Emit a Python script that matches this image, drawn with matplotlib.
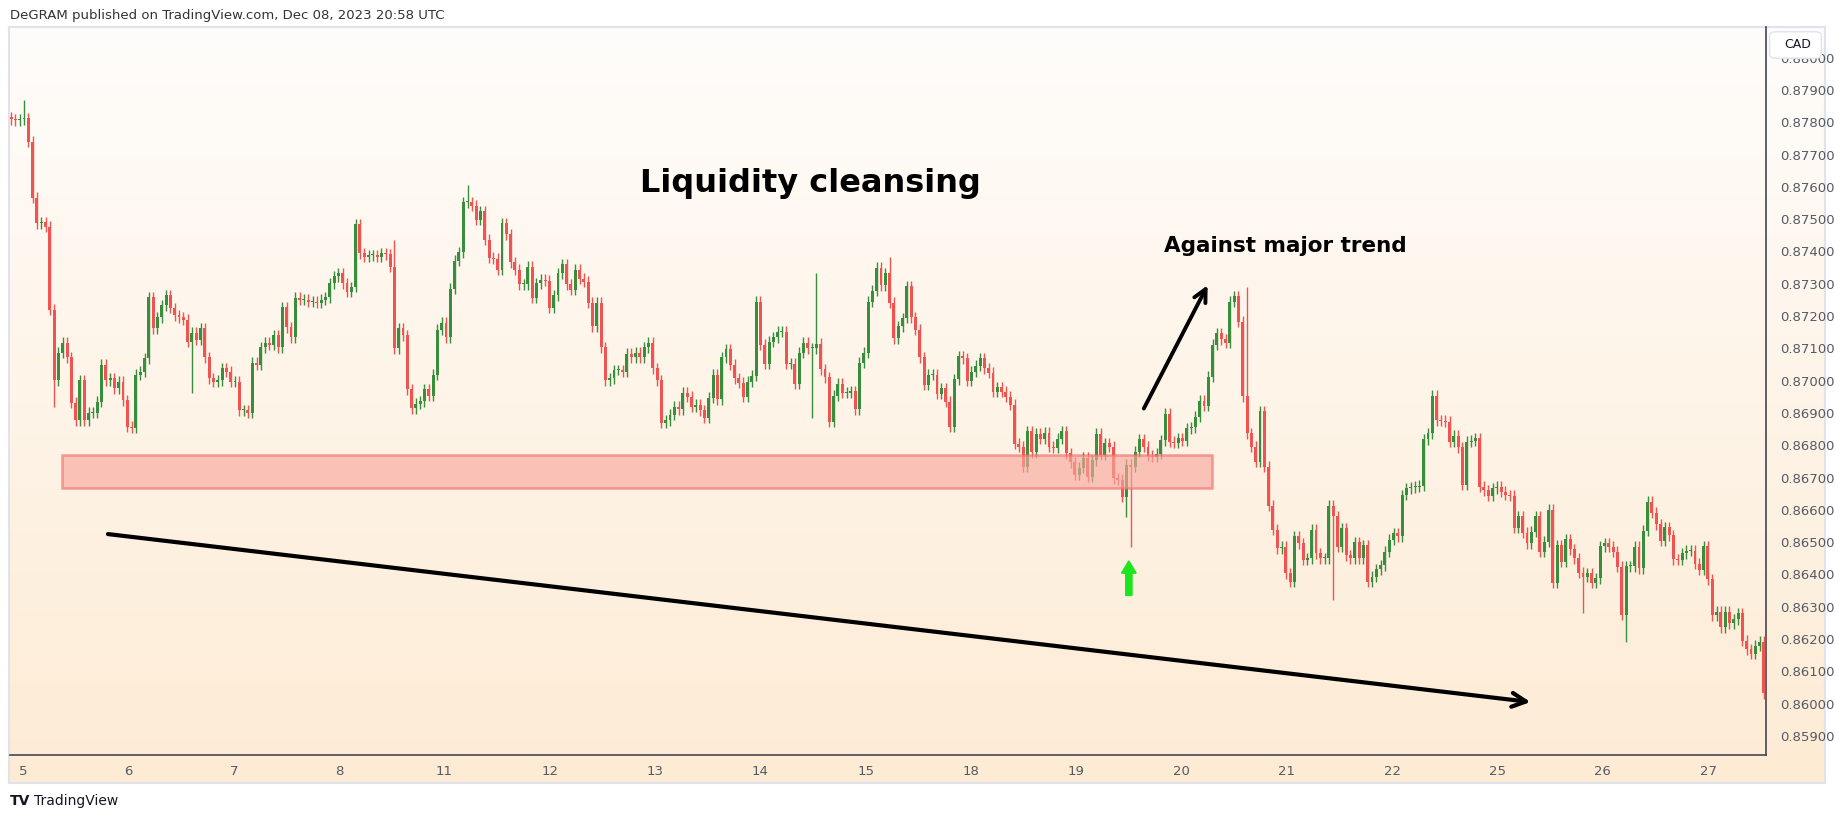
import numpy as np
import matplotlib
matplotlib.use("Agg")
import matplotlib.pyplot as plt
from matplotlib.patches import Rectangle, FancyBboxPatch, FancyArrow
from matplotlib.colors import LinearSegmentedColormap

# ---------------- data ----------------
closes = [
    0.8781, 0.87807, 0.8781, 0.87813, 0.87739, 0.87566, 0.87488, 0.87491, 0.87476, 0.87219,
    0.87002, 0.87086, 0.87117, 0.87073, 0.86931, 0.86878, 0.87002, 0.86878, 0.869, 0.869,
    0.86934, 0.87049, 0.87002, 0.87008, 0.86977, 0.86996, 0.8694, 0.86857, 0.86854, 0.87018,
    0.87027, 0.8707, 0.87259, 0.87163, 0.87197, 0.87234, 0.87265, 0.87225, 0.87203, 0.87197,
    0.87188, 0.8712, 0.87148, 0.87126, 0.87163, 0.87073, 0.87008, 0.86996, 0.87002, 0.87039,
    0.87027, 0.86996, 0.86996, 0.86909, 0.86909, 0.869, 0.87055, 0.87049, 0.87104, 0.87117,
    0.87111, 0.87141, 0.87104, 0.87228, 0.87166, 0.87135, 0.87256, 0.8725, 0.8725, 0.87244,
    0.87244, 0.87241, 0.8725, 0.87259, 0.87302, 0.87324, 0.87333, 0.87302, 0.87275, 0.8729,
    0.87485, 0.87395, 0.87383, 0.87389,
    0.87389, 0.87383, 0.87395, 0.87392, 0.87352, 0.87101, 0.87163, 0.87141, 0.86974, 0.86915,
    0.86928, 0.86937, 0.86974, 0.86953, 0.87018, 0.87157, 0.87179, 0.87135, 0.87284, 0.87371,
    0.87398, 0.87553, 0.87553, 0.87541, 0.87498, 0.87525, 0.87436, 0.8738, 0.87377, 0.87343,
    0.87488, 0.87454, 0.87367, 0.87343, 0.87299, 0.87299, 0.87352, 0.87256, 0.87302, 0.87312,
    0.87309, 0.87225, 0.87265, 0.87333, 0.87361, 0.87299, 0.87281, 0.87343, 0.87315, 0.87306,
    0.87241, 0.87169, 0.87241, 0.87104, 0.87002, 0.87008, 0.87033, 0.87033, 0.87027, 0.87083,
    0.87073, 0.87086, 0.87073, 0.87104, 0.87117, 0.87039, 0.87002, 0.86869, 0.86878, 0.86894,
    0.86919, 0.86912, 0.86962, 0.8695, 0.86919, 0.86925, 0.86909, 0.86885, 0.86947, 0.87018,
    0.86943, 0.87073, 0.87098, 0.87049, 0.87008, 0.86993, 0.8695, 0.86996,
    0.87015, 0.87244, 0.87111, 0.87052, 0.8712, 0.87135, 0.87151, 0.87151, 0.87052, 0.87052,
    0.8699, 0.87086, 0.87117, 0.87101, 0.87101, 0.87114, 0.87036, 0.87011, 0.86872, 0.86953,
    0.8699, 0.86962, 0.86962, 0.86968, 0.86912, 0.87055, 0.87086, 0.87244, 0.87278, 0.87349,
    0.87296, 0.87333, 0.87241, 0.87132, 0.87169, 0.87194, 0.87293, 0.87197, 0.87157, 0.87073,
    0.86987, 0.87018, 0.87018, 0.86959, 0.86977, 0.86934, 0.86857, 0.87005, 0.87076, 0.8707,
    0.86999, 0.87027, 0.87046, 0.8707, 0.87039, 0.87024, 0.86965, 0.8698, 0.86965, 0.8695,
    0.86925, 0.86804, 0.86795, 0.86733, 0.86844, 0.86779, 0.86835, 0.8682, 0.86838, 0.86795,
    0.86792, 0.8682, 0.86844, 0.86776, 0.86748, 0.86708, 0.8673, 0.86761, 0.86702, 0.86754,
    0.86835, 0.8677, 0.86807, 0.86795,
    0.86698, 0.86693, 0.86641, 0.86739, 0.86734, 0.8678, 0.86819, 0.86796, 0.86767, 0.86765,
    0.86773, 0.86816, 0.86897, 0.86811, 0.86808, 0.86822, 0.86814, 0.86853, 0.86856, 0.86889,
    0.86938, 0.86922, 0.87012, 0.87111, 0.87147, 0.87128, 0.87118, 0.87245, 0.87262, 0.87183,
    0.86951, 0.86837, 0.86796, 0.86749, 0.86906, 0.86734, 0.86612, 0.86538, 0.86481, 0.86486,
    0.86404, 0.86378, 0.86519, 0.86497, 0.86445, 0.8645, 0.86538, 0.86466, 0.8645, 0.8645,
    0.86612, 0.86581, 0.86486, 0.86543, 0.8646, 0.8645, 0.86499, 0.8645, 0.86491, 0.86378,
    0.86393, 0.86416, 0.86429, 0.86471, 0.86507, 0.86527, 0.86519, 0.86646, 0.86667, 0.8667,
    0.86672, 0.86674, 0.86819, 0.86837, 0.86953, 0.86878, 0.86876, 0.86873, 0.86811, 0.8683,
    0.86794, 0.86677, 0.86811, 0.86814, 0.86822, 0.86672, 0.8666, 0.86643, 0.86667,
    0.86672, 0.86656, 0.86646, 0.86644, 0.86545, 0.86581, 0.86529, 0.86497, 0.86532, 0.86581,
    0.86471, 0.86502, 0.866, 0.86375, 0.86491, 0.8644, 0.86509, 0.86478, 0.8645, 0.86406,
    0.86393, 0.86404, 0.86375, 0.86388, 0.86488, 0.86497, 0.86486, 0.86471, 0.86424, 0.86275,
    0.86426, 0.86426, 0.86486, 0.86419, 0.86536, 0.86625, 0.86591, 0.86555, 0.86505, 0.86546,
    0.86522, 0.86447, 0.86445, 0.86466, 0.86474, 0.86474, 0.86433, 0.86414, 0.86488, 0.86385,
    0.86274, 0.86285, 0.86236, 0.86285, 0.86249, 0.86261, 0.8628, 0.86195, 0.86168, 0.86154,
    0.86179, 0.86192, 0.86032,
]
first_open = 0.87815

# long wicks: (day position, price)
spike_highs = [(0.0, 0.87869), (3.51, 0.87436), (4.22, 0.87606), (7.53, 0.87333),
               (8.23, 0.87383), (11.62, 0.8729), (15.42, 0.86643)]
spike_lows = [(0.29, 0.8692), (1.61, 0.86962), (7.49, 0.86885), (10.46, 0.86578),
              (10.50, 0.86486), (12.45, 0.86321), (14.81, 0.8628), (15.22, 0.86191)]

day_labels = ["5", "6", "7", "8", "11", "12", "13", "14", "15", "18", "19", "20",
              "21", "22", "25", "26", "27"]
price_ticks = [0.859, 0.860, 0.861, 0.862, 0.863, 0.864, 0.865, 0.866, 0.867,
               0.868, 0.869, 0.870, 0.871, 0.872, 0.873, 0.874, 0.875, 0.876,
               0.877, 0.878, 0.879, 0.880]
zone_low, zone_high = 0.86668, 0.8677
zone_start, zone_end = 0.37, 11.29

# ---------------- figure ----------------
W, H = 1835, 818
fig = plt.figure(figsize=(W / 100, H / 100), dpi=100)
fig.patch.set_facecolor("white")

def fx(px): return px / W
def fy(py): return 1 - py / H

bg = fig.add_axes([fx(9), fy(783), fx(1825) - fx(9), fy(27) - fy(783)])
cmap = LinearSegmentedColormap.from_list("g", ["#fffdfb", "#fdebd4"])
bg.imshow(np.linspace(0, 1, 256).reshape(-1, 1), aspect="auto", cmap=cmap,
          extent=[0, 1, 0, 1], origin="upper")
bg.set_xlim(0, 1); bg.set_ylim(0, 1)
bg.set_xticks([]); bg.set_yticks([])
for s in bg.spines.values():
    s.set_color("#e0e3eb"); s.set_linewidth(1.5)

ax = fig.add_axes([fx(10), fy(755), fx(1766) - fx(10), fy(27) - fy(755)])
ax.patch.set_alpha(0)

N = len(closes)
T0, T1 = -0.114, 16.53
t = np.linspace(T0, T1, N)
step = t[1] - t[0]
c = np.array(closes)
o = np.concatenate([[first_open], c[:-1]])
WICK = 0.00017
hi = np.maximum(o, c) + WICK
lo = np.minimum(o, c) - WICK
for (d, p) in spike_highs:
    k = int(np.argmin(np.abs(t - d))); hi[k] = max(hi[k], p)
for (d, p) in spike_lows:
    k = int(np.argmin(np.abs(t - d))); lo[k] = min(lo[k], p)

GREEN, RED = "#388e3c", "#f05350"
cols = [GREEN if cc >= oo else RED for oo, cc in zip(o, c)]
ax.vlines(t, lo, hi, colors=cols, linewidth=1.0, zorder=3)
body_h = np.maximum(np.abs(c - o), 0.000025)
ax.bar(t, body_h, bottom=np.minimum(o, c), width=step * 0.68, color=cols,
       linewidth=0, zorder=4)

ax.add_patch(Rectangle((zone_start, zone_low), zone_end - zone_start, zone_high - zone_low,
                       facecolor="#f9a99e", alpha=0.65, edgecolor="#f26d6d",
                       linewidth=1.8, zorder=5))

ax.set_xlim(-0.124, 16.55)
ax.set_ylim(0.85841, 0.88095)
ax.set_xticks(np.arange(len(day_labels)))
ax.set_xticklabels(day_labels)
ax.yaxis.tick_right()
ax.set_yticks(price_ticks)
ax.set_yticklabels([f"{p:.5f}" for p in price_ticks])
ax.tick_params(axis="both", length=0, labelsize=9.5, colors="#555a66")
ax.tick_params(axis="y", pad=10)
ax.tick_params(axis="x", pad=7)
for s in ["top", "left"]:
    ax.spines[s].set_visible(False)
ax.spines["right"].set_color("#434651"); ax.spines["right"].set_linewidth(1.2)
ax.spines["bottom"].set_color("#434651"); ax.spines["bottom"].set_linewidth(1.2)

ax.text(7.48, 0.87611, "Liquidity cleansing", fontsize=23, fontweight="bold",
        ha="center", va="center", color="black", zorder=8)
ax.text(11.99, 0.87416, "Against major trend", fontsize=15.5, fontweight="bold",
        ha="center", va="center", color="black", zorder=8)
ax.annotate("", xy=(11.26, 0.87303), xytext=(10.63, 0.86906),
            arrowprops=dict(arrowstyle="->,head_length=0.9,head_width=0.45", lw=2.8,
                            color="black"), zorder=8)
ax.annotate("", xy=(14.34, 0.86004), xytext=(0.78, 0.86526),
            arrowprops=dict(arrowstyle="->,head_length=1.0,head_width=0.5", lw=3.0,
                            color="black"), zorder=8)
ax.add_patch(FancyArrow(10.50, 0.86335, 0, 0.00107, width=0.06, head_width=0.14,
                        head_length=0.00038, length_includes_head=True,
                        color="#1ee61e", zorder=8))

fig.text(fx(10), fy(15), "DeGRAM published on TradingView.com, Dec 08, 2023 20:58 UTC",
         fontsize=9.5, color="#333", va="center", ha="left")
fig.text(fx(10), fy(801), "TV", fontsize=10, fontweight="bold", color="#131722",
         va="center", ha="left")
fig.text(fx(34), fy(801), "TradingView", fontsize=10, color="#131722",
         va="center", ha="left")

cad = fig.add_axes([fx(1768), fy(60), fx(1823) - fx(1768), fy(30) - fy(60)])
cad.set_axis_off()
cad.add_patch(FancyBboxPatch((0.03, 0.06), 0.94, 0.88, boxstyle="round,pad=0,rounding_size=0.12",
                             transform=cad.transAxes, facecolor="white", edgecolor="#e0e3eb"))
cad.text(0.3, 0.5, "CAD", transform=cad.transAxes, fontsize=9, color="#131722",
         va="center", ha="left")

fig.savefig("out.png", dpi=100)
